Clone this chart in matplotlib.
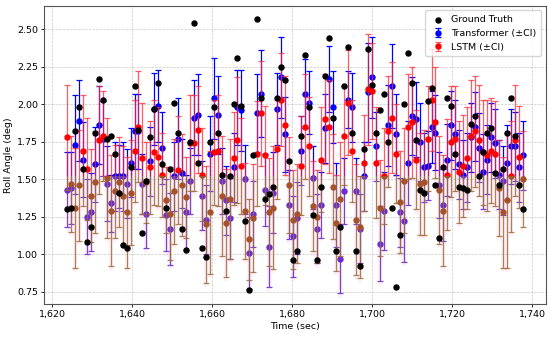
import numpy as np
import matplotlib
matplotlib.use('Agg')
import matplotlib.pyplot as plt
from matplotlib.patches import Rectangle
from matplotlib.transforms import blended_transform_factory
from matplotlib.ticker import StrMethodFormatter

# --- Data ---

ground_truth = [
    1.30, 1.31, 1.82, 1.98, 1.57, 1.08, 1.18, 1.81, 2.17, 2.03,
    1.77, 1.79, 1.67, 1.41, 1.06, 1.04, 1.58, 2.12, 1.83, 1.14,
    1.49, 1.78, 1.97, 2.14, 1.60, 1.31, 1.57, 2.01, 1.81, 1.17,
    1.03, 1.75, 2.54, 1.61, 1.04, 0.98, 1.75, 1.98, 1.81, 1.53,
    1.29, 1.52, 2.00, 2.31, 1.99, 1.22, 0.76, 1.66, 2.57, 2.04,
    1.37, 1.40, 1.45, 2.04, 2.25, 2.16, 1.62, 0.96, 1.02, 1.79,
    2.33, 1.98, 1.26, 0.96, 1.45, 2.19, 2.44, 1.91, 1.02, 1.18,
    2.12, 2.38, 1.81, 1.02, 0.92, 1.70, 2.37, 2.13, 1.81, 1.96,
    2.07, 1.75, 1.31, 0.78, 1.13, 2.00, 2.34, 2.14, 1.76, 1.43,
    1.41, 2.02, 2.11, 1.46, 1.11, 1.58, 2.04, 1.99, 1.67, 1.45,
    1.44, 1.43, 1.87, 1.92, 1.52, 1.68, 1.81, 1.84, 1.54, 1.46,
    1.57, 1.81, 2.04, 1.79, 1.46, 1.30,
]
transformer = [
    1.43, 1.44, 1.73, 1.89, 1.63, 1.25, 1.28, 1.60, 1.86, 1.77,
    1.47, 1.34, 1.52, 1.52, 1.52, 1.47, 1.61, 1.82, 1.82, 1.47,
    1.27, 1.62, 1.97, 1.99, 1.71, 1.26, 1.17, 1.52, 1.77, 1.54,
    1.28, 1.49, 1.91, 1.93, 1.39, 1.23, 1.67, 2.04, 1.93, 1.49,
    1.36, 1.24, 1.58, 1.98, 1.96, 1.50, 1.01, 1.27, 1.94, 2.07,
    1.43, 1.05, 1.41, 1.97, 2.18, 1.80, 1.33, 1.12, 1.24, 1.69,
    2.07, 2.01, 1.51, 1.17, 1.33, 1.84, 2.17, 1.98, 1.33, 0.97,
    1.42, 2.03, 1.98, 1.42, 1.17, 1.52, 2.08, 2.18, 1.72, 1.07,
    1.29, 1.86, 2.12, 1.80, 1.28, 1.22, 1.61, 1.92, 1.90, 1.75,
    1.58, 1.59, 1.85, 1.81, 1.46, 1.33, 1.63, 1.86, 1.80, 1.60,
    1.53, 1.58, 1.78, 1.85, 1.71, 1.55, 1.63, 1.78, 1.74, 1.53,
    1.49, 1.61, 1.72, 1.72, 1.58, 1.66,
]
transformer_ci = [
    0.25, 0.24, 0.33, 0.27, 0.25, 0.25, 0.26, 0.25, 0.26, 0.25,
    0.25, 0.19, 0.23, 0.21, 0.23, 0.23, 0.23, 0.25, 0.25, 0.20,
    0.23, 0.23, 0.24, 0.24, 0.24, 0.24, 0.24, 0.23, 0.27, 0.23,
    0.25, 0.22, 0.25, 0.27, 0.23, 0.23, 0.25, 0.27, 0.26, 0.22,
    0.23, 0.27, 0.23, 0.25, 0.27, 0.23, 0.24, 0.22, 0.26, 0.29,
    0.24, 0.27, 0.27, 0.24, 0.27, 0.25, 0.23, 0.27, 0.24, 0.23,
    0.23, 0.21, 0.21, 0.23, 0.22, 0.23, 0.22, 0.24, 0.28, 0.23,
    0.22, 0.19, 0.23, 0.22, 0.23, 0.23, 0.33, 0.27, 0.23, 0.25,
    0.26, 0.27, 0.28, 0.27, 0.23, 0.27, 0.28, 0.26, 0.25, 0.26,
    0.23, 0.23, 0.24, 0.25, 0.22, 0.24, 0.24, 0.23, 0.23, 0.23,
    0.23, 0.23, 0.23, 0.23, 0.23, 0.25, 0.23, 0.23, 0.23, 0.23,
    0.23, 0.25, 0.25, 0.23, 0.23, 0.23,
]
lstm = [
    1.78, 1.47, 1.31, 1.46, 1.69, 1.57, 1.39, 1.48, 1.76, 1.79,
    1.51, 1.29, 1.42, 1.48, 1.39, 1.28, 1.41, 1.69, 1.85, 1.64,
    1.48, 1.58, 1.68, 1.65, 1.53, 1.36, 1.27, 1.42, 1.56, 1.46,
    1.38, 1.74, 1.74, 1.83, 1.53, 1.20, 1.28, 1.68, 1.69, 1.39,
    1.21, 1.37, 1.64, 1.76, 1.59, 1.29, 1.10, 1.24, 1.67, 1.94,
    1.66, 1.28, 1.31, 1.70, 2.03, 1.86, 1.46, 1.23, 1.27, 1.59,
    1.85, 1.72, 1.32, 1.25, 1.63, 1.90, 1.85, 1.45, 1.21, 1.37,
    1.79, 2.01, 1.69, 1.23, 1.18, 1.61, 2.10, 2.09, 1.61, 1.31,
    1.52, 1.82, 1.91, 1.67, 1.35, 1.49, 1.85, 1.88, 1.63, 1.47,
    1.48, 1.77, 2.03, 1.88, 1.43, 1.29, 1.53, 1.75, 1.77, 1.55,
    1.59, 1.64, 1.79, 1.82, 1.76, 1.68, 1.66, 1.69, 1.67, 1.44,
    1.28, 1.36, 1.52, 1.76, 1.65, 1.50,
]
lstm_ci = [
    0.35, 0.32, 0.40, 0.37, 0.37, 0.34, 0.31, 0.34, 0.36, 0.30,
    0.40, 0.37, 0.31, 0.30, 0.33, 0.37, 0.35, 0.34, 0.37, 0.37,
    0.27, 0.31, 0.35, 0.33, 0.28, 0.22, 0.31, 0.35, 0.36, 0.34,
    0.27, 0.32, 0.32, 0.29, 0.31, 0.39, 0.41, 0.35, 0.37, 0.40,
    0.36, 0.40, 0.31, 0.42, 0.32, 0.32, 0.27, 0.36, 0.35, 0.35,
    0.33, 0.36, 0.41, 0.33, 0.31, 0.33, 0.32, 0.33, 0.33, 0.33,
    0.35, 0.33, 0.30, 0.31, 0.35, 0.30, 0.31, 0.35, 0.32, 0.38,
    0.33, 0.35, 0.34, 0.37, 0.34, 0.32, 0.37, 0.32, 0.37, 0.32,
    0.32, 0.37, 0.37, 0.33, 0.34, 0.35, 0.35, 0.37, 0.33, 0.34,
    0.35, 0.35, 0.34, 0.37, 0.36, 0.37, 0.37, 0.37, 0.35, 0.34,
    0.34, 0.34, 0.37, 0.37, 0.37, 0.35, 0.37, 0.35, 0.35, 0.32,
    0.37, 0.45, 0.37, 0.37, 0.34, 0.32,
]

t_start = 1623.8
t_step = 0.99
time = t_start + t_step * np.arange(len(ground_truth))

gt = np.array(ground_truth)
tr = np.array(transformer)
tr_e = np.array(transformer_ci)
ls = np.array(lstm)
ls_e = np.array(lstm_ci)

# the lower band of the picture is tinted (red -> brown, blue -> purple)
cut = 1.52

# --- Plot ---

fig = plt.figure(figsize=(5.5, 3.37), dpi=100)
ax = fig.add_axes([0.0807, 0.098, 0.9113, 0.885])
fs = 6.8

ax.set_xlim(1618.1, 1743.4)
ax.set_ylim(0.668, 2.657)

blend = blended_transform_factory(ax.transAxes, ax.transData)
upper = Rectangle((0, cut), 1, 10, transform=blend, visible=False)
lower = Rectangle((0, -10), 1, 10 + cut, transform=blend, visible=False)
ax.add_patch(upper)
ax.add_patch(lower)


def clip_eb(eb, patch):
    line, caps, bars = eb.lines
    for a in [line, *caps, *bars]:
        if a is not None:
            a.set_clip_path(patch)


# faint pink wash behind the tinted part
bottom = np.minimum(tr - tr_e, ls - ls_e) - 0.03
pink = ax.fill_between(time, bottom, cut, where=bottom < cut, step='mid',
                       color='#fdf0f8', lw=0, zorder=0.5)
pink.set_clip_path(lower)

ms = 3.6
kw = dict(fmt='o', markersize=ms, capsize=2, elinewidth=0.9, capthick=0.9)

eb_tr = ax.errorbar(time, tr, yerr=tr_e, color='blue', ecolor='blue',
                    label='Transformer (±CI)', zorder=2, **kw)
eb_ls = ax.errorbar(time, ls, yerr=ls_e, color='red', ecolor=(1, 0.15, 0.2, 0.75),
                    label='LSTM (±CI)', zorder=2.2, **kw)
clip_eb(eb_tr, upper)
clip_eb(eb_ls, upper)

eb_tr2 = ax.errorbar(time, tr, yerr=tr_e, color='#6a2ad8', ecolor='#7a40d0',
                     label='_nolegend_', zorder=2, **kw)
eb_ls2 = ax.errorbar(time, ls, yerr=ls_e, color='#a5522a', ecolor=(0.62, 0.42, 0.22, 0.85),
                     label='_nolegend_', zorder=2.2, **kw)
clip_eb(eb_tr2, lower)
clip_eb(eb_ls2, lower)

ax.scatter(time, gt, s=ms ** 2, color='black', label='Ground Truth', zorder=3)

ax.set_xlabel('Time (sec)', fontsize=fs, labelpad=2)
ax.set_ylabel('Roll Angle (deg)', fontsize=fs, labelpad=3)
ax.xaxis.set_major_formatter(StrMethodFormatter('{x:,.0f}'))
ax.yaxis.set_major_formatter(StrMethodFormatter('{x:.2f}'))
ax.tick_params(labelsize=fs, length=2.5, width=0.6, pad=2)
ax.grid(True, linestyle='--', linewidth=0.5, color='#b0b0b0', alpha=0.7)
ax.set_axisbelow(True)
for s in ax.spines.values():
    s.set_linewidth(0.8)
    s.set_color('#555555')

ax.legend(loc='upper right', fontsize=fs, borderpad=0.5, handletextpad=0.6,
          labelspacing=0.5, handlelength=1.6)

fig.savefig('out.png', dpi=100)
